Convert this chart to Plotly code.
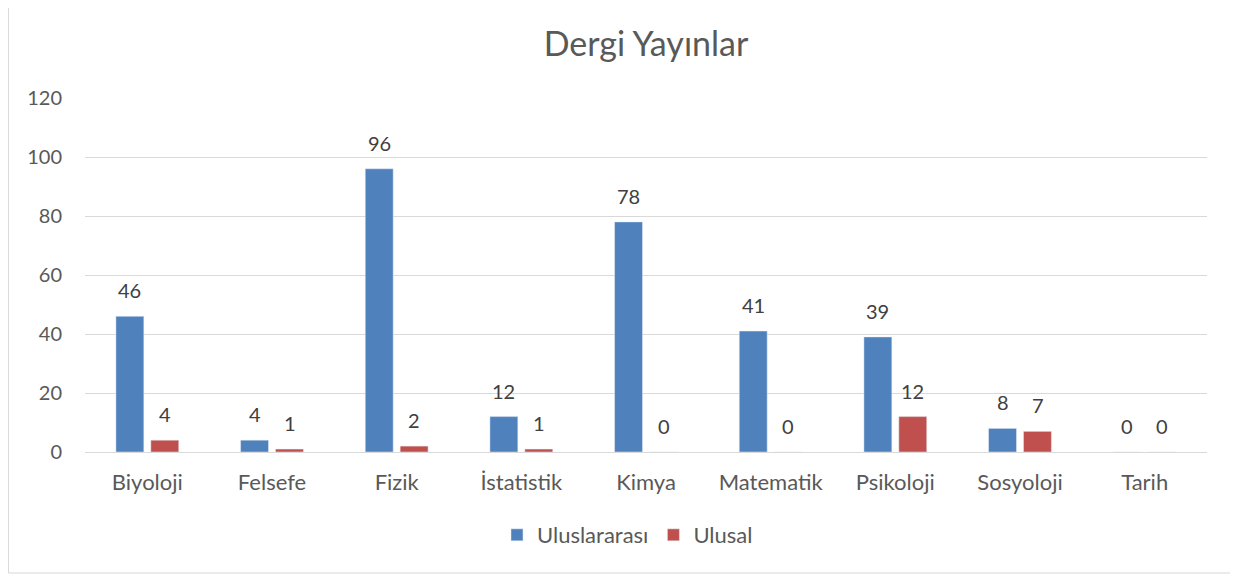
import plotly.graph_objects as go

categories = ["Biyoloji", "Felsefe", "Fizik", "İstatistik", "Kimya",
              "Matematik", "Psikoloji", "Sosyoloji", "Tarih"]
uluslararasi = [46, 4, 96, 12, 78, 41, 39, 8, 0]
ulusal = [4, 1, 2, 1, 0, 0, 12, 7, 0]
y_ticks = [0, 20, 40, 60, 80, 100, 120]

BLUE = "#4F81BD"
RED = "#C0504D"
TEXT = "#595959"
FONT = "Lato, Open Sans, sans-serif"

fig = go.Figure()
fig.add_trace(go.Bar(x=categories, y=uluslararasi, name="Uluslararası",
                     marker=dict(color=BLUE)))
fig.add_trace(go.Bar(x=categories, y=ulusal, name="Ulusal",
                     marker=dict(color=RED)))

# data labels above bars, offset like Excel
for series, shift in [(uluslararasi, -17.5), (ulusal, 17.5)]:
    for cat, val in zip(categories, series):
        fig.add_annotation(x=cat, y=val, text=str(val), showarrow=False,
                           xshift=shift, yshift=26, yanchor="middle",
                           font=dict(size=20, color="#404040", family=FONT))

# chart border
fig.add_shape(type="rect", xref="paper", yref="paper",
              x0=-0.0682, x1=1.022, y0=-0.3418, y1=1.28,
              line=dict(color="#D9D9D9", width=1))

fig.update_layout(
    width=1238, height=578,
    title=dict(text="Dergi Yayınlar", x=0.5, xref="paper", xanchor="center",
               y=0.9377, yanchor="middle",
               font=dict(size=34, color=TEXT, family=FONT)),
    barmode="group", bargap=0.44, bargroupgap=0.2,
    plot_bgcolor="white", paper_bgcolor="white",
    margin=dict(l=77, r=39, t=90, b=134),
    font=dict(family=FONT, color=TEXT, size=20),
    legend=dict(orientation="h", x=0.4835, xanchor="center",
                y=-0.2345, yanchor="middle", font=dict(size=22, color=TEXT),
                itemwidth=30),
    showlegend=True,
)
fig.update_yaxes(range=[0, 120], tickvals=y_ticks, showgrid=True,
                 gridcolor="#D9D9D9", gridwidth=1, zeroline=False,
                 showline=False, ticks="", ticklabelstandoff=22,
                 tickfont=dict(size=20, color=TEXT))
fig.update_xaxes(showline=True, linecolor="#D9D9D9", linewidth=1,
                 ticks="", ticklabelstandoff=11,
                 tickfont=dict(size=22, color=TEXT))

fig.write_html("out.html")
